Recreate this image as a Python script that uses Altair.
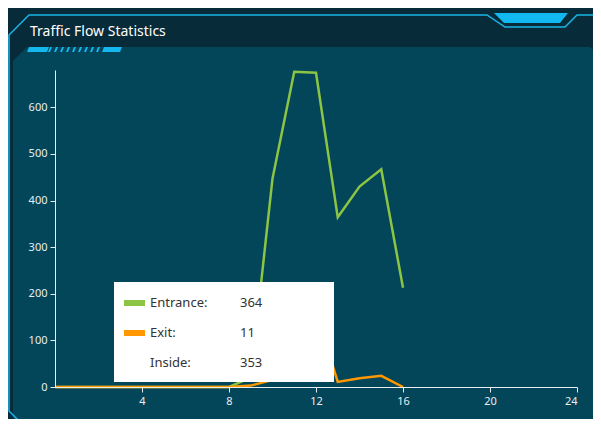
import altair as alt
import pandas as pd

# ---- data ----
hours = list(range(17))
entrance = [0, 0, 0, 0, 0, 0, 0, 0, 0, 20, 447, 676, 674, 364, 430, 467, 213]
exits = [0, 0, 0, 0, 0, 0, 0, 0, 0, 3, 15, 70, 160, 11, 19, 24, 0]
series_names = ["Entrance", "Exit"]
series_colors = ["#8cc443", "#ff9800"]
x_ticks = [4, 8, 12, 16, 20, 24]
y_ticks = [0, 100, 200, 300, 400, 500, 600]
title_text = "Traffic Flow Statistics"
tooltip_hour = 13

# ---- styling ----
FONT = "Noto Sans"
BG = "#082b3a"
PANEL = "#03465a"
CYAN = "#1ab4e6"
AXIS_COLOR = "#e8eef0"

df = pd.DataFrame({
    "hour": hours * 2,
    "value": entrance + exits,
    "series": [series_names[0]] * len(hours) + [series_names[1]] * len(hours),
})

idx = hours.index(tooltip_hour)
tip_rows = [
    ("Entrance:", entrance[idx]),
    ("Exit:", exits[idx]),
    ("Inside:", entrance[idx] - exits[idx]),
]

one = alt.Data(values=[{"k": 0}])


def deco(path, **kw):
    return alt.Chart(one).mark_point(shape=path, size=4, opacity=1, **kw).encode(
        x=alt.value(0), y=alt.value(0))


# decoration shapes (pixel offsets from the plot origin)
panel_path = "M-28,-23 L535,-23 L545,-13 L545,360 L-42,360 L-42,-9 Z"
border_path = "M-30,357 L-46,341 L-46,-35 L-26,-55 L432,-55 L450,-43 L510,-43 L522,-55 L546,-55"
badge_path = "M439,-57 L513,-57 L505,-47 L449,-47 Z"
stripe = "M-28,-18 L-8,-18 L-6,-23 L-26,-23 Z "
for i in range(9):
    x0 = -7 + i * 6
    stripe += f"M{x0},-18 L{x0+2},-18 L{x0+4},-23 L{x0+2},-23 Z "
stripe += "M47,-18 L65,-18 L67,-23 L49,-23 Z"

layers = [
    deco(panel_path, filled=True, fill=PANEL, strokeWidth=0),
    deco(border_path, filled=False, stroke=CYAN, strokeWidth=1.5),
    deco(badge_path, filled=True, fill="#12b8f0", strokeWidth=0),
    deco(stripe, filled=True, fill="#16b6ee", strokeWidth=0),
    alt.Chart(one).mark_text(text=title_text, font=FONT, fontSize=14, color="#ffffff",
                             align="left", baseline="middle").encode(
        x=alt.value(-25), y=alt.value(-38)),
]

x_enc = alt.X("hour:Q", scale=alt.Scale(domain=[0, 24], nice=False),
              axis=alt.Axis(values=x_ticks, title=None, grid=False, zindex=1,
                            domainColor=AXIS_COLOR, tickColor=AXIS_COLOR, tickSize=5,
                            labelColor=AXIS_COLOR, labelFont=FONT, labelFontSize=11,
                            labelPadding=3))
y_enc = alt.Y("value:Q", scale=alt.Scale(domain=[0, 680], nice=False),
              axis=alt.Axis(values=y_ticks, title=None, grid=False, zindex=1,
                            domainColor=AXIS_COLOR, tickColor=AXIS_COLOR, tickSize=5,
                            labelColor=AXIS_COLOR, labelFont=FONT, labelFontSize=11,
                            labelPadding=3))
color_enc = alt.Color("series:N", scale=alt.Scale(domain=series_names, range=series_colors),
                      legend=None)

for name in series_names:
    layers.append(
        alt.Chart(df).transform_filter(alt.datum.series == name)
        .mark_line(strokeWidth=2.5, strokeJoin="miter")
        .encode(x=x_enc, y=y_enc, color=color_enc)
    )

# tooltip box
layers.append(alt.Chart(one).mark_rect(color="#ffffff", opacity=1).encode(
    x=alt.value(59), x2=alt.value(279), y=alt.value(212), y2=alt.value(312)))
swatch_colors = series_colors + [None]
for i, (lab, val) in enumerate(tip_rows):
    yy = 233 + 30 * i
    if swatch_colors[i]:
        layers.append(alt.Chart(one).mark_rect(color=swatch_colors[i], opacity=1).encode(
            x=alt.value(69), x2=alt.value(90), y=alt.value(yy - 3), y2=alt.value(yy + 3)))
    layers.append(alt.Chart(one).mark_text(text=lab, font=FONT, fontSize=13, color="#333333",
                                           align="left", baseline="middle").encode(
        x=alt.value(95), y=alt.value(yy)))
    layers.append(alt.Chart(one).mark_text(text=str(val), font=FONT, fontSize=13, color="#333333",
                                           align="left", baseline="middle").encode(
        x=alt.value(185), y=alt.value(yy)))

chart = alt.layer(*layers).properties(
    width=522, height=317,
    background=BG,
    autosize=alt.AutoSizeParams(type="none"),
    padding={"left": 47, "top": 62, "right": 16, "bottom": 32},
).configure_view(stroke=None)

chart.save("out.html", embed_options={"renderer": "svg", "actions": False})
